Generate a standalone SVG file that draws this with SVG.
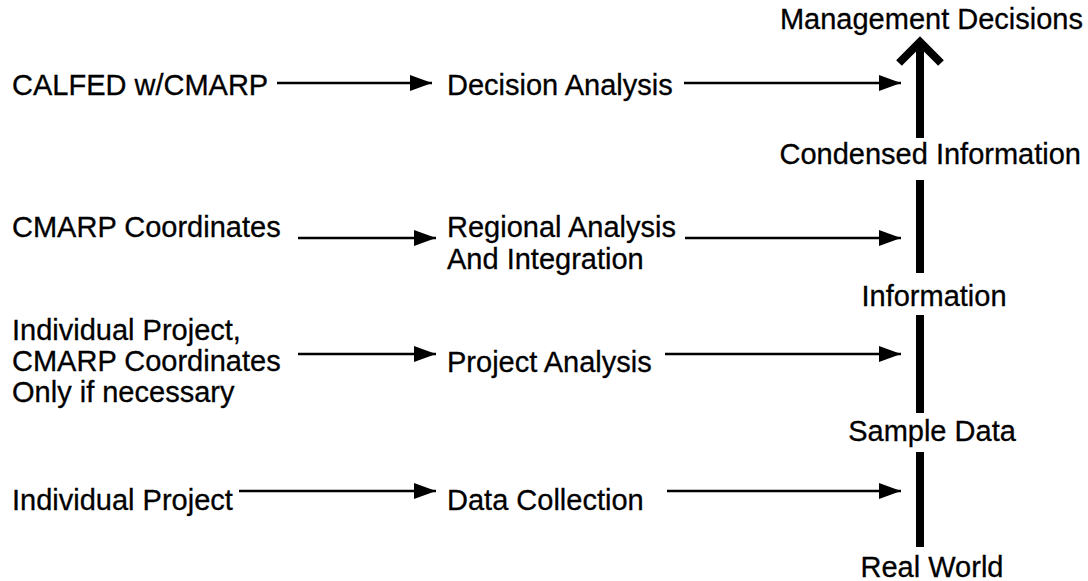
<svg xmlns="http://www.w3.org/2000/svg" width="1088" height="581" viewBox="0 0 1088 581">
<style>
text{font-family:"Liberation Sans",Arial,Helvetica,sans-serif;font-size:29px;fill:#000;stroke:#000;stroke-width:0.3}
.c{text-anchor:middle}
.e{text-anchor:end}
.ln{stroke:#000;stroke-width:2.6;fill:none}
.sh{fill:#000}
</style>
<defs>
<marker id="ah" markerUnits="userSpaceOnUse" markerWidth="24" markerHeight="18" refX="22" refY="8" orient="auto">
<path d="M0,0 L22,8 L0,16 Z" fill="#000"/>
</marker>
</defs>
<rect width="1088" height="581" fill="#fff"/>
<g id="connectors">
<line class="ln" x1="277" y1="83" x2="432" y2="83" marker-end="url(#ah)"/>
<line class="ln" x1="684" y1="83" x2="901" y2="83" marker-end="url(#ah)"/>
<line class="ln" x1="298" y1="238" x2="436" y2="238" marker-end="url(#ah)"/>
<line class="ln" x1="685" y1="238" x2="901" y2="238" marker-end="url(#ah)"/>
<line class="ln" x1="298" y1="354" x2="436" y2="354" marker-end="url(#ah)"/>
<line class="ln" x1="665" y1="354" x2="901" y2="354" marker-end="url(#ah)"/>
<line class="ln" x1="239" y1="491" x2="436" y2="491" marker-end="url(#ah)"/>
<line class="ln" x1="667" y1="491" x2="901" y2="491" marker-end="url(#ah)"/>
<rect class="sh" x="916" y="44" width="8" height="94"/>
<polyline points="899,63 920,42 941,63" fill="none" stroke="#000" stroke-width="8"/>
<rect class="sh" x="916" y="180" width="8" height="93"/>
<rect class="sh" x="916" y="315" width="8" height="98"/>
<rect class="sh" x="916" y="452" width="8" height="95"/>
</g>
<g id="calfed"><text x="12" y="95">CALFED w/CMARP</text></g>
<g id="decision-analysis"><text x="447" y="95">Decision Analysis</text></g>
<g id="cmarp-coordinates"><text x="12" y="237">CMARP Coordinates</text></g>
<g id="regional-analysis"><text x="447" y="237">Regional Analysis</text><text x="447" y="269">And Integration</text></g>
<g id="individual-project-cmarp"><text x="12" y="340">Individual Project,</text><text x="12" y="371">CMARP Coordinates</text><text x="12" y="402">Only if necessary</text></g>
<g id="project-analysis"><text x="447" y="372">Project Analysis</text></g>
<g id="individual-project"><text x="12" y="510">Individual Project</text></g>
<g id="data-collection"><text x="447" y="510">Data Collection</text></g>
<g id="management-decisions"><text class="e" x="1083" y="29">Management Decisions</text></g>
<g id="condensed-information"><text class="e" x="1081" y="164">Condensed Information</text></g>
<g id="information"><text class="c" x="934" y="306">Information</text></g>
<g id="sample-data"><text class="c" x="932" y="441">Sample Data</text></g>
<g id="real-world"><text class="c" x="932" y="577">Real World</text></g>
</svg>
